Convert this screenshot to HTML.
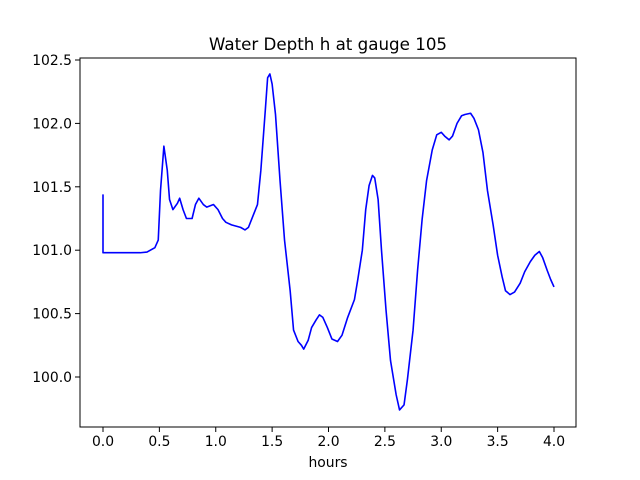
<!DOCTYPE html>
<html><head><meta charset="utf-8"><style>
body{margin:0;background:#fff}
svg{display:block;font-family:"DejaVu Sans","Liberation Sans",sans-serif}
</style></head><body>
<svg id="chart" width="640" height="480">
<rect width="640" height="480" fill="#fff"/>
<text x="328" y="50" text-anchor="middle" font-size="16.7">Water Depth h at gauge 105</text>
<g id="plot"></g>
<rect x="80" y="58" width="496" height="369" fill="none" stroke="#000" stroke-width="1"/>
<text x="328" y="467" text-anchor="middle" font-size="13.9">hours</text>
</svg>
<script>
const hours=[0,0,0.33,0.39,0.46,0.49,0.51,0.54,0.57,0.59,0.62,0.66,0.68,0.71,0.74,0.79,0.82,0.85,0.89,0.92,0.98,1.02,1.06,1.09,1.14,1.22,1.26,1.29,1.33,1.37,1.40,1.44,1.46,1.48,1.50,1.53,1.57,1.61,1.66,1.69,1.73,1.76,1.78,1.82,1.85,1.89,1.92,1.95,1.99,2.03,2.08,2.12,2.17,2.23,2.26,2.30,2.33,2.36,2.39,2.41,2.44,2.47,2.51,2.55,2.60,2.63,2.67,2.70,2.75,2.79,2.83,2.87,2.92,2.96,3.00,3.03,3.07,3.10,3.14,3.18,3.21,3.26,3.29,3.33,3.37,3.41,3.46,3.50,3.54,3.57,3.61,3.65,3.70,3.74,3.79,3.83,3.87,3.90,3.94,3.97,4.0];
const depth=[101.44,100.98,100.98,100.985,101.02,101.08,101.47,101.82,101.63,101.40,101.32,101.37,101.41,101.32,101.25,101.25,101.36,101.41,101.36,101.34,101.36,101.32,101.25,101.22,101.20,101.18,101.16,101.18,101.27,101.36,101.63,102.11,102.36,102.39,102.31,102.07,101.55,101.08,100.68,100.37,100.28,100.25,100.22,100.29,100.39,100.45,100.49,100.47,100.39,100.30,100.28,100.33,100.47,100.61,100.77,101.00,101.32,101.51,101.59,101.57,101.40,101.00,100.53,100.13,99.86,99.74,99.78,99.98,100.37,100.84,101.24,101.55,101.79,101.91,101.93,101.90,101.87,101.90,102.00,102.06,102.07,102.08,102.04,101.95,101.77,101.47,101.20,100.96,100.79,100.68,100.65,100.67,100.74,100.83,100.91,100.96,100.99,100.94,100.84,100.77,100.71];
const xTicks=[0.0,0.5,1.0,1.5,2.0,2.5,3.0,3.5,4.0];
const yTicks=[100.0,100.5,101.0,101.5,102.0,102.5];
const X=h=>103+h*112.75;
const Y=v=>377-(v-100)*126.8;
const NS="http://www.w3.org/2000/svg";
const g=document.getElementById('plot');
xTicks.forEach(t=>{
  const l=document.createElementNS(NS,'line');
  
  
  l.setAttribute('x1',X(t));l.setAttribute('x2',X(t));l.setAttribute('y1',427);l.setAttribute('y2',432);l.setAttribute('stroke','#000');
  g.appendChild(l);
  const tx=document.createElementNS(NS,'text');
  
  
  tx.setAttribute('x',X(t));tx.setAttribute('y',446);tx.setAttribute('text-anchor','middle');tx.setAttribute('font-size','13.9');
  tx.textContent=t.toFixed(1);g.appendChild(tx);
});
yTicks.forEach(t=>{
  const l=document.createElementNS(NS,'line');
  
  
  l.setAttribute('x1',75);l.setAttribute('x2',80);l.setAttribute('y1',Y(t));l.setAttribute('y2',Y(t));l.setAttribute('stroke','#000');
  g.appendChild(l);
  const tx=document.createElementNS(NS,'text');
  
  
  tx.setAttribute('x',72);tx.setAttribute('y',Y(t)+5);tx.setAttribute('text-anchor','end');tx.setAttribute('font-size','13.9');
  tx.textContent=t.toFixed(1);g.appendChild(tx);
});
const p=document.createElementNS(NS,'polyline');


p.setAttribute('points',hours.map((h,i)=>X(h)+','+Y(depth[i])).join(' '));
p.setAttribute('fill','none');p.setAttribute('stroke','#0000ff');p.setAttribute('stroke-width','1.6');p.setAttribute('stroke-linejoin','round');
g.appendChild(p);
</script>
</body></html>
